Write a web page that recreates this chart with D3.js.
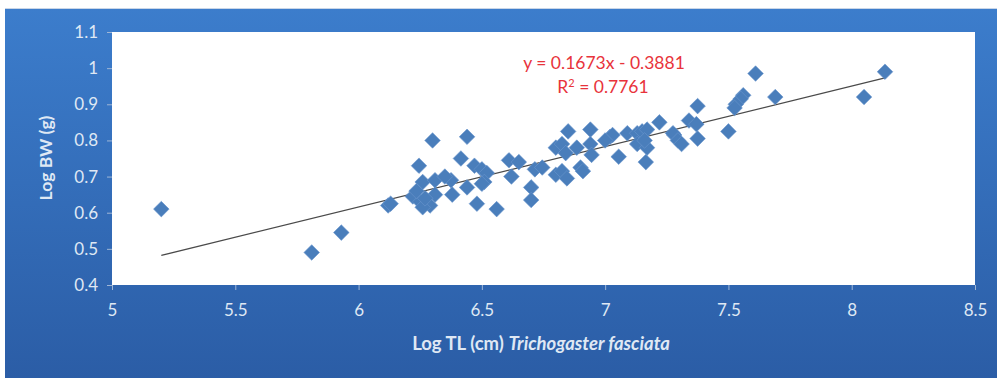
<!DOCTYPE html>
<html><head><meta charset="utf-8">
<script src="https://cdn.jsdelivr.net/npm/d3@7"></script>
<style>html,body{margin:0;padding:0;background:#fff;}svg{display:block;}</style>
</head><body>
<svg id="chart" width="997" height="378"></svg>
<script>
const logTL = [5.20,5.81,5.93,6.12,6.13,6.30,6.44,6.245,6.415,6.26,6.31,6.375,6.22,6.25,6.29,6.26,6.31,6.38,6.44,6.48,6.56,6.47,6.50,6.52,6.51,6.50,6.61,6.65,6.62,6.70,6.70,6.715,6.745,6.80,6.825,6.845,6.80,6.825,6.85,6.885,6.90,6.91,6.94,6.94,6.945,7.02,7.03,7.055,7.09,7.13,7.15,7.17,7.13,7.17,7.165,7.22,7.28,7.61,8.135,8.05,7.69,7.56,7.55,7.53,7.525,7.50,7.375,7.34,7.37,7.375,7.275,7.295,7.31,6.235,6.27,6.35,6.84,7.16,7.00];
const logBW = [0.61,0.49,0.545,0.62,0.625,0.80,0.81,0.73,0.75,0.685,0.69,0.69,0.645,0.63,0.62,0.615,0.65,0.65,0.67,0.625,0.61,0.73,0.72,0.71,0.685,0.68,0.745,0.74,0.70,0.67,0.635,0.72,0.725,0.705,0.715,0.695,0.78,0.79,0.825,0.78,0.725,0.715,0.83,0.79,0.76,0.81,0.815,0.755,0.82,0.82,0.825,0.83,0.79,0.78,0.74,0.85,0.815,0.985,0.99,0.92,0.92,0.925,0.915,0.90,0.89,0.825,0.895,0.855,0.845,0.805,0.82,0.80,0.79,0.66,0.64,0.70,0.765,0.80,0.80];
const xTicks = [5,5.5,6,6.5,7,7.5,8,8.5];
const yTicks = [0.4,0.5,0.6,0.7,0.8,0.9,1,1.1];
const slope = 0.1673, intercept = -0.3881, r2 = 0.7761;

const svg = d3.select("#chart");
const W = 997, H = 378;
const m = {left:112, right:975, top:32, bottom:285};
const defs = svg.append("defs");
const g = defs.append("linearGradient").attr("id","bg").attr("x1",0).attr("y1",0).attr("x2",0).attr("y2",1);
g.append("stop").attr("offset","0%").attr("stop-color","#3c7dcc");
g.append("stop").attr("offset","100%").attr("stop-color","#2b5da6");
svg.append("rect").attr("x",5).attr("y",8).attr("width",W-5).attr("height",H-8).attr("fill","url(#bg)");
svg.append("line").attr("x1",5).attr("x2",W).attr("y1",8.5).attr("y2",8.5).attr("stroke","#c9d6e8").attr("stroke-width",1);

const x = d3.scaleLinear().domain([5,8.5]).range([m.left,m.right]);
const y = d3.scaleLinear().domain([0.4,1.1]).range([m.bottom,m.top]);

svg.append("rect").attr("x",m.left).attr("y",m.top).attr("width",m.right-m.left).attr("height",m.bottom-m.top).attr("fill","#ffffff");

const font = "Lato, 'Open Sans', sans-serif";
const txt = "#dfe8f4";

const ya = svg.append("g").attr("transform",`translate(${m.left},0)`)
  .call(d3.axisLeft(y).tickValues(yTicks).tickSize(5).tickPadding(9).tickFormat(d=>d3.format("")(d)));
ya.select(".domain").remove();
ya.selectAll("line").attr("stroke","#9fb6d6");
ya.selectAll("text").attr("fill",txt).style("font-family",font).style("font-size","17px");

const xa = svg.append("g").attr("transform",`translate(0,${m.bottom})`)
  .call(d3.axisBottom(x).tickValues(xTicks).tickSize(5).tickPadding(14).tickFormat(d=>d3.format("")(d)));
xa.select(".domain").remove();
xa.selectAll("line").attr("stroke","#9fb6d6");
xa.selectAll("text").attr("fill",txt).style("font-family",font).style("font-size","17px");

// axis titles
const xt = svg.append("text").attr("x",541).attr("y",350).attr("text-anchor","middle")
  .attr("fill",txt).style("font-family",font).style("font-size","18.5px").style("font-weight","bold");
xt.append("tspan").text("Log TL (cm) ");
xt.append("tspan").style("font-style","italic").text("Trichogaster fasciata");
svg.append("text").attr("transform","translate(52,158) rotate(-90)").attr("text-anchor","middle")
  .attr("fill",txt).style("font-family",font).style("font-size","17.5px").style("font-weight","bold").text("Log BW (g)");

// trend line
const xmin = d3.min(logTL), xmax = d3.max(logTL);
svg.append("line").attr("x1",x(xmin)).attr("y1",y(slope*xmin+intercept))
  .attr("x2",x(xmax)).attr("y2",y(slope*xmax+intercept))
  .attr("stroke","#4a4a4a").attr("stroke-width",1.3);

// points
const pts = logTL.map((v,i)=>[v,logBW[i]]);
const r = 7.8;
svg.append("g").selectAll("path").data(pts).join("path")
  .attr("d",d=>`M${x(d[0])},${y(d[1])-r}L${x(d[0])+r},${y(d[1])}L${x(d[0])},${y(d[1])+r}L${x(d[0])-r},${y(d[1])}Z`)
  .attr("fill","#4a7ebb").attr("stroke","#6a96cc").attr("stroke-width",0.6);

// equation
const eq = svg.append("text").attr("x",604).attr("y",69).attr("text-anchor","middle")
  .attr("fill","#e8333b").style("font-family",font).style("font-size","17.5px");
eq.text(`y = ${slope}x - ${Math.abs(intercept)}`);
const rt = svg.append("text").attr("x",603).attr("y",93).attr("text-anchor","middle")
  .attr("fill","#e8333b").style("font-family",font).style("font-size","17.5px");
rt.append("tspan").text("R");
rt.append("tspan").attr("dy",-6).style("font-size","11px").text("2");
rt.append("tspan").attr("dy",6).text(` = ${r2}`);
</script>
</body></html>
